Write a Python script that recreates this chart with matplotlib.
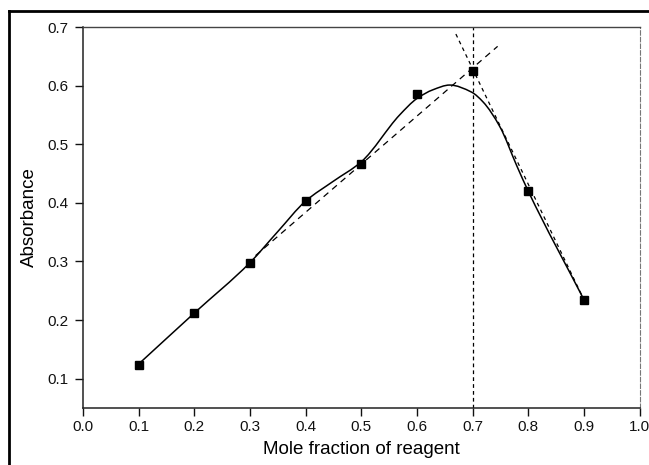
import matplotlib
matplotlib.use("Agg")
import matplotlib.pyplot as plt
from matplotlib.lines import Line2D
from matplotlib.path import Path
from matplotlib.patches import PathPatch

plt.rcParams['font.family'] = ['Liberation Sans', 'DejaVu Sans']

# measured data points
mole_fraction = [0.1, 0.2, 0.3, 0.4, 0.5, 0.6, 0.7, 0.8, 0.9]
absorbance = [0.124, 0.212, 0.298, 0.404, 0.467, 0.585, 0.625, 0.420, 0.235]

# smooth fitted curve, knots
curve_x = [0.10, 0.20, 0.30, 0.35, 0.40, 0.45, 0.50, 0.569, 0.60, 0.629,
           0.659, 0.698, 0.719, 0.749, 0.78, 0.80, 0.90]
curve_y = [0.125, 0.212, 0.298, 0.351, 0.403, 0.437, 0.470, 0.550, 0.578, 0.593,
           0.601, 0.589, 0.572, 0.530, 0.462, 0.420, 0.235]

# tangent lines (dashed)
rise_x = [0.31, 0.745]
rise_y = [0.310, 0.667]
fall_x = [0.67, 0.90]
fall_y = [0.688, 0.235]
vline_x = 0.7

x_ticks = [0.0, 0.1, 0.2, 0.3, 0.4, 0.5, 0.6, 0.7, 0.8, 0.9, 1.0]
y_ticks = [0.1, 0.2, 0.3, 0.4, 0.5, 0.6, 0.7]


def smooth_path(xs, ys):
    """Monotone cubic Hermite (Bezier form) through the knots."""
    n = len(xs)
    d = [(ys[i + 1] - ys[i]) / (xs[i + 1] - xs[i]) for i in range(n - 1)]
    m = [d[0]]
    for i in range(1, n - 1):
        a, b = d[i - 1], d[i]
        if a * b <= 0:
            m.append(0.0)
        else:
            h0 = xs[i] - xs[i - 1]
            h1 = xs[i + 1] - xs[i]
            w1 = 2 * h1 + h0
            w2 = h1 + 2 * h0
            m.append((w1 + w2) / (w1 / a + w2 / b))
    m.append(d[-1])
    verts = [(xs[0], ys[0])]
    codes = [Path.MOVETO]
    for i in range(n - 1):
        h = xs[i + 1] - xs[i]
        verts += [(xs[i] + h / 3, ys[i] + m[i] * h / 3),
                  (xs[i + 1] - h / 3, ys[i + 1] - m[i + 1] * h / 3),
                  (xs[i + 1], ys[i + 1])]
        codes += [Path.CURVE4] * 3
    return Path(verts, codes)


fig = plt.figure(figsize=(6.49, 4.65), dpi=100)
ax = fig.add_axes([0.1279, 0.1226, 0.8575, 0.8193])

ax.add_patch(PathPatch(smooth_path(curve_x, curve_y), facecolor='none',
                       edgecolor='black', lw=1.1, zorder=3))
ax.plot(mole_fraction, absorbance, linestyle='none', marker='s', markersize=5.5,
        color='black', zorder=4)
ax.plot(rise_x, rise_y, color='black', lw=0.9, linestyle=(0, (5, 4)), zorder=2)
ax.plot(fall_x, fall_y, color='black', lw=0.9, linestyle=(0, (3, 3)), zorder=2)
ax.axvline(vline_x, color='black', lw=0.9, linestyle=(0, (3, 2.5)), zorder=2)

ax.set_xlim(0.0, 1.0)
ax.set_ylim(0.05, 0.7)
ax.set_xticks(x_ticks)
ax.set_xticklabels([f"{v:.1f}" for v in x_ticks])
ax.set_yticks(y_ticks)
ax.set_yticklabels([f"{v:.1f}" for v in y_ticks])
ax.tick_params(direction='out', length=5.5, width=1.0, labelsize=11,
               colors='#111111', pad=5)
ax.tick_params(axis='x', pad=3.5)

for s in ['left', 'bottom']:
    ax.spines[s].set_linewidth(1.1)
    ax.spines[s].set_color('#222222')
ax.spines['top'].set_linewidth(1.0)
ax.spines['top'].set_color('#444444')
ax.spines['right'].set_linewidth(0.8)
ax.spines['right'].set_color('#777777')
ax.spines['right'].set_linestyle((0, (4, 2)))

ax.set_xlabel('Mole fraction of reagent', fontsize=13.5, labelpad=5)
ax.set_ylabel('Absorbance', fontsize=13.5, labelpad=7)

# outer figure frame (top and left edges)
fig.add_artist(Line2D([8.5 / 649, 1.0], [1 - 11 / 465, 1 - 11 / 465],
                      transform=fig.transFigure, color='black', lw=2.0))
fig.add_artist(Line2D([8.5 / 649, 8.5 / 649], [0.0, 1 - 11 / 465],
                      transform=fig.transFigure, color='black', lw=2.0))

fig.savefig('out.png', dpi=100)
